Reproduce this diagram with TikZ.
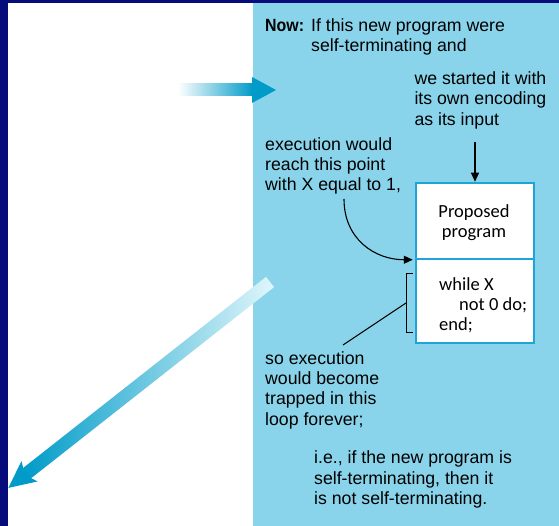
\documentclass[tikz,border=0pt]{standalone}
\usepackage{graphicx}
\usepackage{fontspec}
\setmainfont{Liberation Sans}
\newfontfamily\boxfont{Carlito}
\usetikzlibrary{arrows.meta,calc}
\definecolor{navybg}{RGB}{6,12,122}
\definecolor{lightpanel}{RGB}{137,212,235}
\definecolor{boxblue}{RGB}{30,165,215}
\definecolor{arrowmid}{RGB}{0,182,218}
\definecolor{arrowdark}{RGB}{0,155,200}
\begin{document}
\begin{tikzpicture}[x=1pt,y=1pt,
  txt/.style={anchor=north west, inner sep=0pt, align=left,
    font=\fontsize{17.7}{20.4}\selectfont, text=black},
  boxtxt/.style={inner sep=0pt, font=\boxfont\fontsize{18.5}{20.3}\selectfont, text=black},
  part/.style={draw=boxblue, line width=1.5pt, fill=white, minimum width=118pt, inner sep=0pt},
  conn/.style={line width=1.1pt, black},
  tip/.style={-{Triangle[length=9pt,width=8pt]}}
]
\useasboundingbox (0,0) rectangle (559,526);
% panels
\fill[navybg] (0,0) rectangle (559,526);
\fill[white] (8,0) rectangle (253,523);
\fill[lightpanel] (253,0) rectangle (559,523);

% horizontal gradient arrow
\shade[left color=white, middle color=arrowmid, right color=arrowdark] (178,430) rectangle (253,442);
\fill[arrowdark] (252,449) -- (276,436) -- (252,423) -- cycle;

% diagonal gradient arrow
\begin{scope}[shift={(270,244)}, rotate=218.2]
  \shade[left color=arrowdark, middle color=arrowmid, right color=white!88!arrowmid] (0,-6.5) rectangle (310,6.5);
  \fill[arrowdark] (309,-6.5) -- (306,-13) -- (333,0) -- (306,13) -- (309,6.5) -- cycle;
\end{scope}

% program box
\node[part, minimum height=76pt] (prop) at (475,305) {};
\node[part, minimum height=84pt] (loop) at (475,225) {};
\node[boxtxt, align=center, anchor=north] (proptxt) at (474,321.5) {Proposed\\program};
\node[boxtxt, align=left, anchor=north west] (looptxt) at (439,248.8) {while X\\\hspace*{20pt}not 0 do;\\end;};

% texts
\node[txt] (now) at (265,507.7) {\makebox[46pt][l]{\scalebox{0.9}[1]{\textbf{Now:}}}If this new program were\\\hspace*{46pt}self-terminating and};
\node[txt] (we) at (414.3,454.5) {we started it with\\its own encoding\\as its input};
\node[txt] (exec) at (265,389) {execution would\\reach this point\\with X equal to 1,};
\node[txt] (so) at (265,175) {so execution\\would become\\trapped in this\\loop forever;};
\node[txt] (ie) at (314,75.4) {i.e., if the new program is\\self-terminating, then it\\is not self-terminating.};

% connectors
\draw[conn, tip, shorten <=13pt, shorten >=0.5pt] (we.south -| prop.north) -- (prop.north);
\coordinate (c1) at (344,327);
\draw[conn, tip, shorten >=2.5pt] (c1) to[out=-90, in=180, looseness=1.1] (prop.south west);
\coordinate (bt) at (413,252);
\coordinate (bm) at (406,223);
\coordinate (c2) at (343,181);
\draw[line width=1pt, black] (bt) -- ++(-7,0) -- ++(0,-59) -- ++(7,0);
\draw[line width=1pt, black] (bm) -- (c2);
\end{tikzpicture}
\end{document}
